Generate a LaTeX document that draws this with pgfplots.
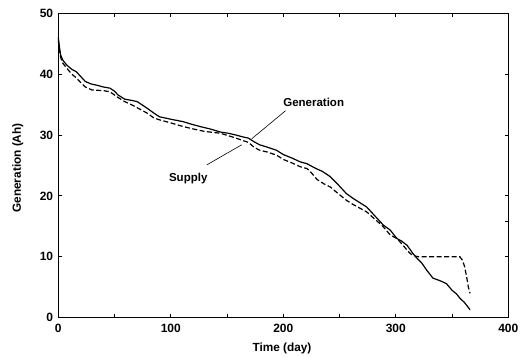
\documentclass[border=0pt]{standalone}
\usepackage{pgfplots}
\pgfplotsset{compat=1.18}
\usepackage{fontspec}
\setmainfont{Liberation Sans}
\begin{document}
\begin{tikzpicture}
\useasboundingbox (-58.3pt,-39.3pt) rectangle (461.7pt,317.7pt);
\begin{axis}[
  at={(0,0)}, anchor=south west,
  scale only axis,
  width=450pt, height=304.4pt,
  xmin=0, xmax=400, ymin=0, ymax=50,
  xtick={0,100,200,300,400},
  minor xtick={50,150,250,350},
  ytick={0,10,20,30,40,50},
  tick align=inside,
  major tick length=3.5pt, minor tick length=3.5pt,
  every tick/.style={black, line width=1pt},
  axis line style={line width=1.4pt},
  /pgf/number format/assume math mode=true,
  ticklabel style={font=\bfseries\fontsize{12}{14}\selectfont, inner sep=0pt},
  xticklabel style={anchor=north, yshift=-6.5pt},
  yticklabel style={anchor=east, xshift=-5pt},
  label style={font=\bfseries\fontsize{11.8}{14}\selectfont},
  xlabel={Time (day)},
  ylabel={Generation (Ah)},
  xlabel style={at={(axis description cs:0.497,-0.0995)}, anchor=center},
  ylabel style={at={(axis description cs:-0.0902,0.492)}, anchor=center},
  clip=false,
]
\addplot[black, line width=1.2pt] coordinates {
(0,46.0) (1,44.5) (2,43.2) (4,42.3) (7.5,41.5) (12,40.8) (16,40.4) (20,39.6) (24,38.8) (29,38.4) (34,38.2) (40,37.9) (46,37.7) (50,37.2) (53,36.6) (59,35.9) (65,35.7) (70,35.5) (75,34.9) (79,34.4) (85,33.6) (90,33.0) (100,32.6) (111,32.2) (118,31.8) (126,31.4) (135,31.0) (144,30.5) (151,30.3) (158,30.0) (164,29.7) (169,29.5) (174,28.9) (179,28.4) (186,28.0) (194,27.5) (200,26.8) (208,26.2) (215,25.6) (221,25.3) (228,24.6) (235,24.0) (241.5,23.2) (248,22.0) (256,20.4) (262,19.6) (268,18.9) (274,18.2) (280,17.0) (285,16.0) (289,15.2) (295,14.4) (301,13.0) (305,12.6) (310,11.9) (315,10.6) (318.6,9.8) (323,9.0) (327.5,7.8) (333,6.5) (339,6.1) (345,5.6) (350,4.5) (354,3.9) (357,3.2) (361,2.5) (364,1.8) (366,1.3)
};
\addplot[black, line width=1.2pt, dash pattern=on 5pt off 2.5pt] coordinates {
(0,45.5) (1,44.0) (2,42.8) (4,41.8) (7.5,41.0) (12,40.0) (16,39.4) (20,38.6) (24,37.9) (30,37.4) (40,37.3) (46,37.1) (52,36.3) (59,35.5) (66,34.9) (72,34.3) (79,33.6) (85,32.8) (90,32.5) (100,32.0) (111,31.4) (120,31.0) (130,30.6) (144,30.3) (151,29.9) (158,29.5) (164,29.1) (169,28.8) (174,28.0) (179,27.5) (186,27.2) (194,26.7) (200,26.0) (208,25.4) (215,24.8) (221,24.5) (225,23.8) (230,22.7) (236,22.0) (241.5,21.5) (248,20.5) (256,19.3) (262,18.6) (268,18.0) (274,17.4) (280,16.4) (285,15.6) (289,14.9) (295,13.6) (301,13.0) (305,12.2) (310,11.1) (313,10.5) (316,10.2) (320,10.0) (340,10.0) (357,10.0) (359,9.5) (361,8.5) (363,6.7) (364.5,5.0) (366,4.0)
};
\draw[black, line width=0.6pt] (axis cs:202,34.0) -- (axis cs:172,29.4);
\draw[black, line width=0.6pt] (axis cs:132,25.1) -- (axis cs:163,28.4);
\node[font=\bfseries\fontsize{11.5}{13}\selectfont] at (axis cs:227,35.3) {Generation};
\node[font=\bfseries\fontsize{11.5}{13}\selectfont] at (axis cs:115.5,22.9) {Supply};
\draw[black, line width=1pt] (axis cs:400,15.8) -- ++(-3.5pt,0);
\end{axis}
\end{tikzpicture}
\end{document}
